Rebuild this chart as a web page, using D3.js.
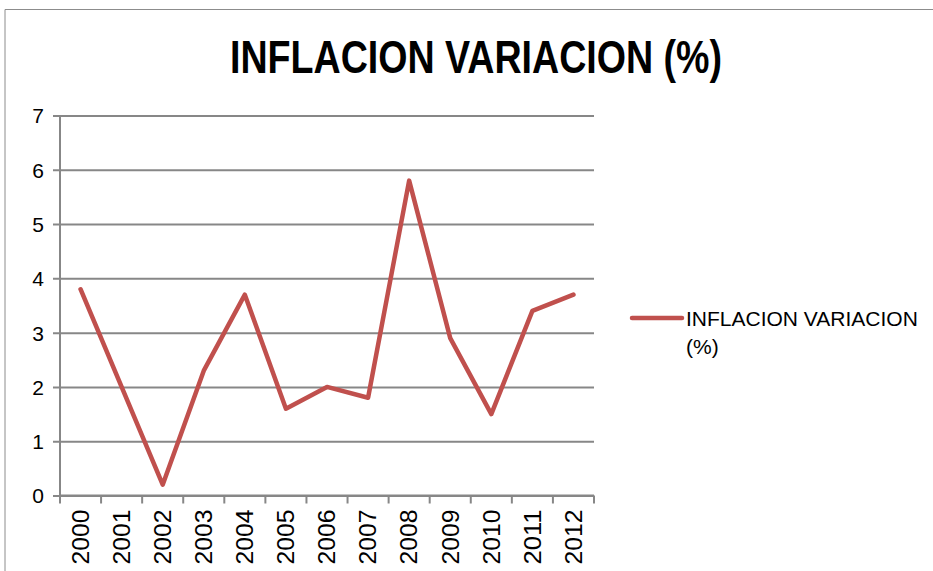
<!DOCTYPE html>
<html>
<head>
<meta charset="utf-8">
<script src="https://cdn.jsdelivr.net/npm/d3@7"></script>
<style>
    body { margin: 0; background: #fff; }
    text { font-family: "Liberation Sans Narrow", "Liberation Sans", Arial, sans-serif; fill: #000; }
</style>
</head>
<body>
<svg id="inflation-chart"></svg>
<script>
const YEARS = ["2000", "2001", "2002", "2003", "2004", "2005", "2006", "2007", "2008", "2009", "2010", "2011", "2012"];
const INFLATION = [3.8, 2.0, 0.2, 2.3, 3.7, 1.6, 2.0, 1.8, 5.8, 2.9, 1.5, 3.4, 3.7];
const Y_TICKS = [0, 1, 2, 3, 4, 5, 6, 7];
const TITLE = "INFLACION VARIACION (%)";

const CHART_WIDTH = 933;
const CHART_HEIGHT = 571;

const PLOT = {
    top: 115.5,
    bottom: 495.5,
    start: 60,
    end: 594
};

const GRID_COLOR = "#878787";
const LINE_COLOR = "#C0504D";

let chart = d3.select("#inflation-chart")
    .attr("width", CHART_WIDTH)
    .attr("height", CHART_HEIGHT);

// outer frame of the chart (only top and left visible)
chart.append("path")
    .attr("d", `M5,${CHART_HEIGHT} L5,9.5 L${CHART_WIDTH},9.5`)
    .attr("fill", "none")
    .attr("stroke", "#8c8c8c")
    .attr("stroke-width", 1);

chart.append("text")
    .attr("x", 476)
    .attr("y", 73)
    .attr("text-anchor", "middle")
    .attr("font-size", "46px")
    .attr("font-weight", "bold")
    .attr("textLength", 492)
    .attr("lengthAdjust", "spacingAndGlyphs")
    .text(TITLE);

let xScale = d3.scaleBand()
    .domain(YEARS)
    .range([PLOT.start, PLOT.end]);

let yScale = d3.scaleLinear()
    .domain([0, 7])
    .range([PLOT.bottom, PLOT.top]);

// horizontal gridlines + y axis
let yAxis = d3.axisLeft(yScale)
    .tickValues(Y_TICKS)
    .tickSize(-(PLOT.end - PLOT.start) - 7)
    .tickPadding(16)
    .tickFormat(d3.format("d"));

let yAxisGroup = chart.append("g")
    .attr("transform", `translate(${PLOT.start}, 0)`)
    .call(yAxis);
yAxisGroup.select(".domain").remove();
yAxisGroup.selectAll(".tick line")
    .attr("x1", -7)
    .attr("x2", PLOT.end - PLOT.start)
    .attr("stroke", GRID_COLOR)
    .attr("stroke-width", 2);
yAxisGroup.selectAll(".tick text")
    .attr("font-size", "21px")
    .attr("font-family", "Liberation Sans Narrow, Liberation Sans, sans-serif")
    .attr("dy", "0.35em");

// vertical axis line
chart.append("line")
    .attr("x1", PLOT.start).attr("x2", PLOT.start)
    .attr("y1", PLOT.top).attr("y2", PLOT.bottom)
    .attr("stroke", GRID_COLOR)
    .attr("stroke-width", 2);

// x axis with ticks at category boundaries
let xAxis = d3.axisBottom(xScale).tickSize(0).tickPadding(0);
let xAxisGroup = chart.append("g")
    .attr("transform", `translate(0, ${PLOT.bottom})`)
    .call(xAxis);
xAxisGroup.select(".domain")
    .attr("d", `M${PLOT.start},0H${PLOT.end}`)
    .attr("stroke", GRID_COLOR)
    .attr("stroke-width", 2);
xAxisGroup.selectAll(".tick text")
    .attr("transform", "rotate(-90)")
    .attr("x", -14)
    .attr("y", 0)
    .attr("dy", "0.36em")
    .attr("text-anchor", "end")
    .attr("font-size", "23px")
    .attr("textLength", 55)
    .attr("lengthAdjust", "spacingAndGlyphs")
    .attr("font-family", "Liberation Sans Narrow, Liberation Sans, sans-serif");

xAxisGroup.selectAll(".boundary-tick")
    .data(YEARS.concat(["end"]))
    .enter()
    .append("line")
        .classed("boundary-tick", true)
        .attr("x1", (d, i) => i < YEARS.length ? xScale(d) : PLOT.end)
        .attr("x2", (d, i) => i < YEARS.length ? xScale(d) : PLOT.end)
        .attr("y1", 0)
        .attr("y2", 8)
        .attr("stroke", GRID_COLOR)
        .attr("stroke-width", 2);

// the series line
let line = d3.line()
    .x((d, i) => xScale(YEARS[i]) + xScale.bandwidth() / 2)
    .y(d => yScale(d));

chart.append("path")
    .datum(INFLATION)
    .attr("d", line)
    .attr("fill", "none")
    .attr("stroke", LINE_COLOR)
    .attr("stroke-width", 4.5)
    .attr("stroke-linejoin", "round")
    .attr("stroke-linecap", "round");

// legend
let legend = chart.append("g");
legend.append("line")
    .attr("x1", 632).attr("x2", 682)
    .attr("y1", 318).attr("y2", 318)
    .attr("stroke", LINE_COLOR)
    .attr("stroke-width", 4.5)
    .attr("stroke-linecap", "round");
legend.append("text")
    .attr("x", 686)
    .attr("y", 326)
    .attr("font-size", "21px")
    .text("INFLACION VARIACION");
legend.append("text")
    .attr("x", 686)
    .attr("y", 354)
    .attr("font-size", "21px")
    .text("(%)");
</script>
</body>
</html>
